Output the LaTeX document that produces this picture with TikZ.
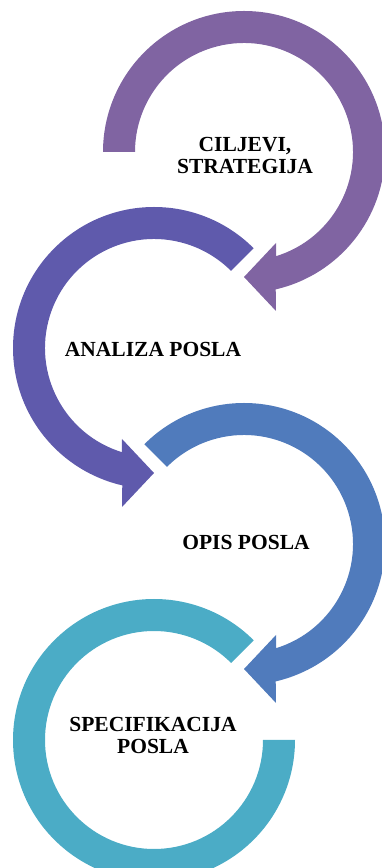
\documentclass[tikz,border=0pt]{standalone}
\usepackage{fontspec}
\setmainfont{Liberation Serif}
\definecolor{ringA}{RGB}{128,100,162}
\definecolor{ringB}{RGB}{95,90,172}
\definecolor{ringC}{RGB}{80,123,188}
\definecolor{ringD}{RGB}{75,172,198}
\begin{document}
\begin{tikzpicture}[x=1pt, y=1pt, line join=round, font=\bfseries\fontsize{21.5}{22}\selectfont]
	\def\ro{141} \def\ri{109} % radii of the rings
	\useasboundingbox (0,0) rectangle (382,868);
	\clip (0,0) rectangle (382,868);
	% ring 1, clockwise
	\fill[ringA, shift={(244,716)}] (180:\ro) arc[start angle=180, end angle=-77, radius=\ro]
		-- (32,-159) -- (0,-125) -- (32,-91) -- (-72.9:\ri) arc[start angle=-72.9, end angle=180, radius=\ri] -- cycle;
	% ring 2, counterclockwise
	\fill[ringB, shift={(154,520)}] (45:\ro) arc[start angle=45, end angle=257, radius=\ro]
		-- (-32,-159) -- (0,-125) -- (-32,-91) -- (252.9:\ri) arc[start angle=252.9, end angle=45, radius=\ri] -- cycle;
	% ring 3, clockwise
	\fill[ringC, shift={(244,324)}] (135:\ro) arc[start angle=135, end angle=-77, radius=\ro]
		-- (32,-159) -- (0,-125) -- (32,-91) -- (-72.9:\ri) arc[start angle=-72.9, end angle=135, radius=\ri] -- cycle;
	% ring 4, no head
	\fill[ringD, shift={(154,128)}] (45:\ro) arc[start angle=45, end angle=360, radius=\ro]
		-- (0:\ri) arc[start angle=360, end angle=45, radius=\ri] -- cycle;
	\node[align=center] (ciljevi) at (245,713) {CILJEVI,\\STRATEGIJA};
	\node (analiza) at (153,519) {ANALIZA POSLA};
	\node (opis) at (246,326) {OPIS POSLA};
	\node[align=center] (specifikacija) at (153,133) {SPECIFIKACIJA\\POSLA};
\end{tikzpicture}
\end{document}
